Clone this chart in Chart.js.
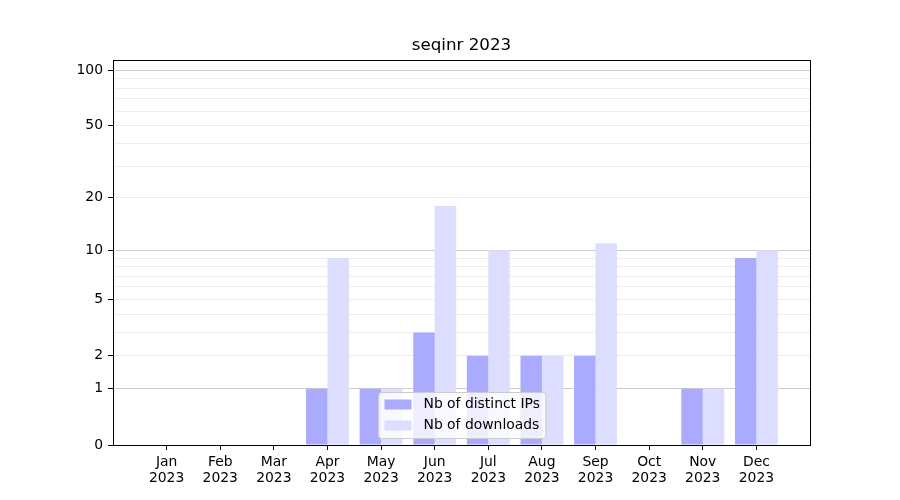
<!DOCTYPE html>
<html>
<head>
<meta charset="utf-8">
<script src="https://cdn.jsdelivr.net/npm/chart.js@4/dist/chart.umd.min.js"></script>
<style>
  html, body { margin: 0; padding: 0; background: #ffffff; }
  #wrap { width: 900px; height: 500px; }
</style>
</head>
<body>
<div id="wrap"><canvas id="c" width="900" height="500"></canvas></div>
<script>
const chartTitle = 'seqinr 2023';
const months = ['Jan', 'Feb', 'Mar', 'Apr', 'May', 'Jun', 'Jul', 'Aug', 'Sep', 'Oct', 'Nov', 'Dec'];
const yearLabel = '2023';
const distinctIPs = [0, 0, 0, 1, 1, 3, 2, 2, 2, 0, 1, 9];
const downloads   = [0, 0, 0, 9, 1, 18, 10, 2, 11, 0, 1, 10];
const seriesNames = ['Nb of distinct IPs', 'Nb of downloads'];
const yTicksLabeled = [0, 1, 2, 5, 10, 20, 50, 100];
const yTicksMinor = [3, 4, 6, 7, 8, 9, 30, 40, 60, 70, 80, 90];
const yTicksDecade = [1, 10, 100];
const yMax = 113.6;

const FONT = "'DejaVu Sans', sans-serif";
const FS = 13.9;
const f = v => Math.log10(1 + v);
const finv = t => Math.pow(10, t) - 1;

class Log1pScale extends Chart.LinearScale {
  buildTicks() {
    const all = yTicksLabeled.concat(yTicksMinor)
      .filter(v => v >= this.min && v <= this.max)
      .sort((a, b) => a - b);
    return all.map(v => ({ value: v }));
  }
  configure() {
    super.configure();
    this._fStart = f(this.min);
    this._fRange = f(this.max) - f(this.min);
  }
  getPixelForValue(v) {
    if (v === null || v === undefined || isNaN(v)) return NaN;
    return this.getPixelForDecimal((f(v) - this._fStart) / this._fRange);
  }
  getValueForPixel(p) {
    return finv(this._fStart + this.getDecimalForPixel(p) * this._fRange);
  }
}
Log1pScale.id = 'log1p';
Log1pScale.defaults = { ticks: { callback: Chart.Ticks.formatters.numeric } };
Chart.register(Log1pScale);

const framePlugin = {
  id: 'frameAndLegend',
  afterDatasetsDraw(chart) {
    const ctx = chart.ctx;
    const a = chart.chartArea;
    ctx.save();
    // title centred over the plot area
    ctx.fillStyle = '#000000';
    ctx.font = '16.7px ' + FONT;
    ctx.textAlign = 'center';
    ctx.textBaseline = 'middle';
    ctx.fillText(chartTitle, (a.left + a.right) / 2, 46);
    // frame
    ctx.strokeStyle = '#000000';
    ctx.lineWidth = 1;
    ctx.strokeRect(Math.round(a.left) + 0.5, Math.round(a.top) + 0.5,
                   Math.round(a.right - a.left) - 0, Math.round(a.bottom - a.top));
    // legend
    ctx.font = FS + 'px ' + FONT;
    const names = chart.data.datasets.map(d => d.label);
    const colors = chart.data.datasets.map(d => d.backgroundColor);
    const tw = Math.max(...names.map(n => ctx.measureText(n).width));
    const padL = 6, sw = 27, gap = 12, padR = 6;
    const bw = padL + sw + gap + tw + padR;
    const bh = 46;
    const cx = (a.left + a.right) / 2;
    const bx = Math.round(cx - bw / 2) + 0.5;
    const by = Math.round(a.bottom - 7 - bh) + 0.5;
    const r = 3;
    ctx.beginPath();
    ctx.moveTo(bx + r, by);
    ctx.lineTo(bx + bw - r, by);
    ctx.quadraticCurveTo(bx + bw, by, bx + bw, by + r);
    ctx.lineTo(bx + bw, by + bh - r);
    ctx.quadraticCurveTo(bx + bw, by + bh, bx + bw - r, by + bh);
    ctx.lineTo(bx + r, by + bh);
    ctx.quadraticCurveTo(bx, by + bh, bx, by + bh - r);
    ctx.lineTo(bx, by + r);
    ctx.quadraticCurveTo(bx, by, bx + r, by);
    ctx.closePath();
    ctx.fillStyle = 'rgba(255,255,255,0.8)';
    ctx.fill();
    ctx.strokeStyle = '#cccccc';
    ctx.stroke();
    ctx.textBaseline = 'middle';
    ctx.textAlign = 'left';
    names.forEach((n, i) => {
      const cy = by + 12 + i * 21;
      ctx.fillStyle = colors[i];
      ctx.fillRect(bx + padL, cy - 5, sw, 10);
      ctx.fillStyle = '#000000';
      ctx.fillText(n, bx + padL + sw + gap, cy);
    });
    ctx.restore();
  }
};

const toPoints = arr => arr.map((v, i) => ({ x: i, y: v }));

new Chart(document.getElementById('c'), {
  type: 'bar',
  data: {
    datasets: [
      { label: seriesNames[0], data: toPoints(distinctIPs), backgroundColor: '#aaaaff', borderWidth: 0 },
      { label: seriesNames[1], data: toPoints(downloads), backgroundColor: '#ddddff', borderWidth: 0 }
    ]
  },
  options: {
    responsive: false,
    animation: false,
    events: [],
    devicePixelRatio: 1,
    layout: { padding: { left: 0, right: 90, top: 60, bottom: 0 } },
    datasets: { bar: { categoryPercentage: 0.8, barPercentage: 1.0 } },
    plugins: {
      legend: { display: false },
      tooltip: { enabled: false },
      title: { display: false }
    },
    scales: {
      x: {
        type: 'linear',
        min: -1,
        max: 12,
        offset: false,
        afterBuildTicks: s => { s.ticks = months.map((m, i) => ({ value: i })); },
        afterFit: s => { s.height = 55; },
        ticks: {
          autoSkip: false,
          maxRotation: 0,
          color: '#000000',
          padding: 4,
          font: { family: FONT, size: FS, lineHeight: 1.15 },
          callback: (v) => [months[v], yearLabel]
        },
        grid: { offset: false, drawOnChartArea: false, tickLength: 5, color: '#000000', tickColor: '#000000' },
        border: { display: true, color: '#000000' }
      },
      y: {
        type: 'log1p',
        min: 0,
        max: yMax,
        afterFit: s => { s.width = 113; },
        ticks: {
          autoSkip: false,
          color: '#000000',
          padding: 5,
          font: { family: FONT, size: FS },
          callback: (v) => yTicksLabeled.includes(v) ? String(v) : ''
        },
        grid: {
          tickLength: 5,
          color: (c) => {
            const v = c.tick ? c.tick.value : null;
            if (v === 0) return 'rgba(0,0,0,0)';
            return yTicksDecade.includes(v) ? '#cccccc' : '#ededed';
          },
          tickColor: (c) => {
            const v = c.tick ? c.tick.value : null;
            return yTicksLabeled.includes(v) ? '#000000' : 'rgba(0,0,0,0)';
          }
        },
        border: { display: true, color: '#000000' }
      }
    }
  },
  plugins: [framePlugin]
});
</script>
</body>
</html>
